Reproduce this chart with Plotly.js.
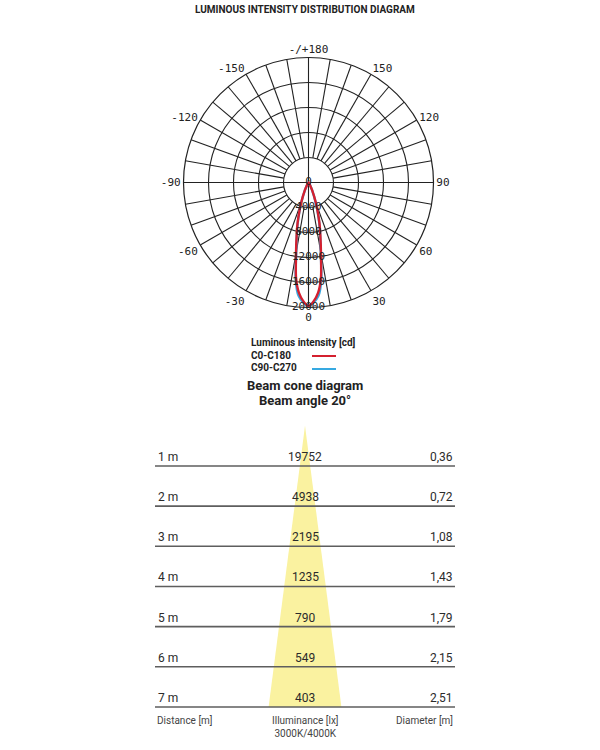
<!DOCTYPE html>
<html>
<head>
<meta charset="utf-8">
<script src="https://cdn.plot.ly/plotly-3.0.1.min.js"></script>
<style>html,body{margin:0;padding:0;background:#fff;}#chart{width:600px;height:750px;}</style>
</head>
<body>
<div id="chart"></div>
<script>
// ---- Luminous intensity distribution (gamma angle in degrees, intensity in cd) ----
const gammaAngles = [0, 2.5, 5, 7.5, 10, 12.5, 15, 17.5, 20, 25, 30, 35, 40, 50, 60, 90];
const intensityC0C180 = [19752, 19000, 17700, 15300, 11500, 8800, 6800, 4900, 3400, 1400, 500, 200, 80, 20, 0, 0];
const intensityC90C270 = [19752, 19200, 18200, 15700, 11300, 8600, 6600, 4800, 3300, 1350, 480, 190, 75, 20, 0, 0];
const radialTicks = [4000, 8000, 12000, 16000, 20000];
const angularTickVals = [0, 30, 60, 90, 120, 150, 180, 210, 240, 270, 300, 330];
const angularTickText = ["0", "30", "60", "90", "120", "150", "-/+180", "-150", "-120", "-90", "-60", "-30"];

// ---- Beam cone table ----
const distances = [1, 2, 3, 4, 5, 6, 7];
const illuminance = ["19752", "4938", "2195", "1235", "790", "549", "403"];
const diameters = [0.36, 0.72, 1.08, 1.43, 1.79, 2.15, 2.51];
const diameterLabels = ["0,36", "0,72", "1,08", "1,43", "1,79", "2,15", "2,51"];

// helpers
const W = 600, H = 750;
const px = x => x / W;
const py = y => 1 - y / H;
const dark = "#222";
const txt = "#2b2b2b";

function mirror(angles, vals) {
  const th = [], r = [];
  for (let i = angles.length - 1; i > 0; i--) { th.push(-angles[i]); r.push(vals[i]); }
  for (let i = 0; i < angles.length; i++) { th.push(angles[i]); r.push(vals[i]); }
  return {th, r};
}
const red = mirror(gammaAngles, intensityC0C180);
const blue = mirror(gammaAngles, intensityC90C270);

// spokes (grid) every 10 degrees, starting at the first ring; main axes through centre
const spokeT = [], spokeR = [];
const rMax = radialTicks[radialTicks.length - 1];
for (let a = 0; a < 360; a += 10) {
  const main = (a % 90 === 0);
  spokeT.push(a, a, null);
  spokeR.push(main ? 0 : radialTicks[0], rMax, null);
}

const xHalf = 5.17;
const lineX = [], lineY = [];
distances.forEach(d => { lineX.push(-xHalf, xHalf, null); lineY.push(d, d, null); });
const lastD = distances[distances.length - 1];
const lastDiam = diameters[diameters.length - 1];

const rowFont = {family: "Roboto", size: 12, color: txt};

const traces = [
  {type: "scatterpolar", subplot: "polar", mode: "lines", theta: spokeT, r: spokeR,
   line: {color: dark, width: 1.1}, hoverinfo: "skip", showlegend: false},
  {type: "scatterpolar", subplot: "polar", mode: "lines", theta: blue.th, r: blue.r,
   line: {color: "#36a9e1", width: 2.4, shape: "spline", smoothing: 0.6}, showlegend: false},
  {type: "scatterpolar", subplot: "polar", mode: "lines", theta: red.th, r: red.r,
   line: {color: "#d4202f", width: 2.4, shape: "spline", smoothing: 0.6}, showlegend: false},
  {type: "scatterpolar", subplot: "polar", mode: "text", theta: [0].concat(radialTicks.map(() => 0)),
   r: [0].concat(radialTicks), text: ["0"].concat(radialTicks.map(String)),
   textposition: "middle center", textfont: {family: "DejaVu Sans Mono", size: 11, color: dark},
   hoverinfo: "skip", showlegend: false},
  // beam cone
  {type: "scatter", xaxis: "x", yaxis: "y", mode: "lines", fill: "toself",
   x: [-lastDiam / 2, 0, lastDiam / 2], y: [lastD, 0, lastD],
   fillcolor: "#faf2a0", line: {width: 0}, hoverinfo: "skip", showlegend: false},
  {type: "scatter", xaxis: "x", yaxis: "y", mode: "lines", x: lineX, y: lineY,
   line: {color: "#5e5e5e", width: 1.6}, hoverinfo: "skip", showlegend: false}
];

const annotations = [
  {text: "<b>LUMINOUS INTENSITY DISTRIBUTION DIAGRAM</b>", x: px(305), y: py(10), xref: "paper", yref: "paper",
   xanchor: "center", yanchor: "middle", showarrow: false, font: {family: "Roboto", size: 10, color: dark}},
  {text: "<b>Luminous intensity [cd]</b>", x: px(249), y: py(343), xref: "paper", yref: "paper",
   xanchor: "left", yanchor: "middle", showarrow: false, font: {family: "Roboto", size: 10, color: dark}},
  {text: "<b>C0-C180</b>", x: px(249), y: py(355.5), xref: "paper", yref: "paper",
   xanchor: "left", yanchor: "middle", showarrow: false, font: {family: "Roboto", size: 10, color: dark}},
  {text: "<b>C90-C270</b>", x: px(249), y: py(368), xref: "paper", yref: "paper",
   xanchor: "left", yanchor: "middle", showarrow: false, font: {family: "Roboto", size: 10, color: dark}},
  {text: "<b>Beam cone diagram</b>", x: px(305), y: py(385), xref: "paper", yref: "paper",
   xanchor: "center", yanchor: "middle", showarrow: false, font: {family: "Roboto", size: 13, color: dark}},
  {text: "<b>Beam angle 20°</b>", x: px(305), y: py(401), xref: "paper", yref: "paper",
   xanchor: "center", yanchor: "middle", showarrow: false, font: {family: "Roboto", size: 13, color: dark}},
  {text: "Distance [m]", x: -xHalf, y: lastD, xref: "x", yref: "y", xanchor: "left", yanchor: "top",
   yshift: -6, showarrow: false, font: {family: "Roboto", size: 10, color: "#444"}},
  {text: "Illuminance [lx]<br>3000K/4000K", x: 0, y: lastD, xref: "x", yref: "y", xanchor: "center", yanchor: "top",
   yshift: -6, showarrow: false, font: {family: "Roboto", size: 10, color: "#444"}},
  {text: "Diameter [m]", x: xHalf, y: lastD, xref: "x", yref: "y", xanchor: "right", yanchor: "top",
   yshift: -6, showarrow: false, font: {family: "Roboto", size: 10, color: "#444"}}
];
// row labels above each distance line
distances.forEach((d, i) => {
  annotations.push({text: d + " m", x: -xHalf, y: d, xref: "x", yref: "y", xanchor: "left", yanchor: "bottom",
    yshift: 0, xshift: 1, showarrow: false, font: rowFont});
  annotations.push({text: illuminance[i], x: 0, y: d, xref: "x", yref: "y", xanchor: "center", yanchor: "bottom",
    yshift: 0, showarrow: false, font: rowFont});
  annotations.push({text: diameterLabels[i], x: xHalf, y: d, xref: "x", yref: "y", xanchor: "right", yanchor: "bottom",
    yshift: 0, showarrow: false, font: rowFont});
});

const layout = {
  width: W, height: H,
  margin: {l: 0, r: 0, t: 0, b: 0},
  paper_bgcolor: "#fff", plot_bgcolor: "rgba(0,0,0,0)",
  showlegend: false,
  font: {family: "Roboto", color: txt},
  polar: {
    domain: {x: [px(183.5), px(433.5)], y: [py(307.5), py(57.5)]},
    bgcolor: "rgba(0,0,0,0)",
    radialaxis: {range: [0, rMax], tickvals: radialTicks, showticklabels: false, ticks: "",
                 showline: false, gridcolor: dark, gridwidth: 1.1},
    angularaxis: {rotation: 270, direction: "counterclockwise", tickvals: angularTickVals,
                  ticktext: angularTickText, showgrid: false, showline: true, linecolor: dark,
                  linewidth: 1.2, ticks: "", tickfont: {family: "DejaVu Sans Mono", size: 11, color: dark}}
  },
  xaxis: {domain: [px(155), px(455)], range: [-xHalf, xHalf], visible: false, fixedrange: true},
  yaxis: {domain: [py(717), py(415.8)], range: [7.25, -0.25], visible: false, fixedrange: true},
  annotations: annotations,
  shapes: [
    {type: "line", xref: "paper", yref: "paper", x0: px(312), x1: px(336), y0: py(356), y1: py(356),
     line: {color: "#d4202f", width: 2}},
    {type: "line", xref: "paper", yref: "paper", x0: px(312), x1: px(336), y0: py(369), y1: py(369),
     line: {color: "#36a9e1", width: 2}}
  ]
};

Plotly.newPlot("chart", traces, layout, {displayModeBar: false, staticPlot: true});
</script>
</body>
</html>
